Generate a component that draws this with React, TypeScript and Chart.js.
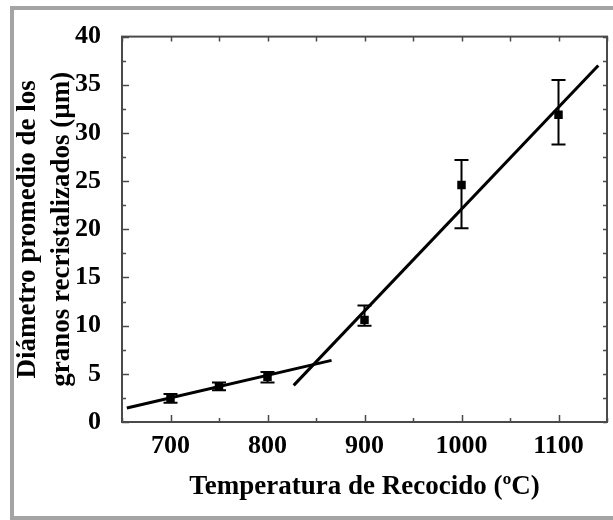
import { useEffect, useRef } from 'react';
import { Chart, registerables } from 'chart.js';

Chart.register(...registerables);

// Annealing temperature (ºC) and mean recrystallized grain diameter (µm)
const temperatures = [700, 750, 800, 900, 1000, 1100];
const grainSize = [2.4, 3.7, 4.7, 10.6, 24.6, 31.9];
const errorUpper = [2.9, 4.1, 5.2, 12.1, 27.2, 35.5];
const errorLower = [2.0, 3.3, 4.1, 10.0, 20.1, 28.8];

// Two linear regimes fitted through the data
const lowFitX = [655, 866];
const lowFitY = [1.45, 6.4];
const highFitX = [827, 1141];
const highFitY = [3.8, 37.0];

const xTicks = [700, 800, 900, 1000, 1100];
const xMinorTicks = [650, 750, 850, 950, 1050, 1150];
const yTicks = [0, 5, 10, 15, 20, 25, 30, 35, 40];
const yMinorTicks = [2.5, 7.5, 12.5, 17.5, 22.5, 27.5, 32.5, 37.5];

const AXIS_COLOR = '#4a4a4a';
const FONT = "'Liberation Serif', 'Times New Roman', serif";

const decorPlugin = {
  id: 'decor',
  afterDatasetsDraw(chart: any) {
    const { ctx, scales } = chart;
    const xs = scales.x;
    const ys = scales.y;
    ctx.save();
    ctx.strokeStyle = '#000';
    ctx.lineWidth = 2;
    temperatures.forEach((t, i) => {
      const px = xs.getPixelForValue(t);
      const top = ys.getPixelForValue(errorUpper[i]);
      const bot = ys.getPixelForValue(errorLower[i]);
      const cap = 7;
      ctx.beginPath();
      ctx.moveTo(px, top);
      ctx.lineTo(px, bot);
      ctx.moveTo(px - cap, top);
      ctx.lineTo(px + cap, top);
      ctx.moveTo(px - cap, bot);
      ctx.lineTo(px + cap, bot);
      ctx.stroke();
    });
    ctx.restore();
  },
  afterDraw(chart: any) {
    const { ctx, chartArea, scales } = chart;
    const { left, right, top, bottom } = chartArea;
    const xs = scales.x;
    const ys = scales.y;
    ctx.save();
    ctx.strokeStyle = AXIS_COLOR;
    ctx.lineWidth = 2;
    ctx.strokeRect(left, top, right - left, bottom - top);
    ctx.lineWidth = 1.5;
    ctx.beginPath();
    xTicks.forEach((v) => {
      const px = Math.round(xs.getPixelForValue(v)) + 0.5;
      ctx.moveTo(px, bottom);
      ctx.lineTo(px, bottom - 7);
      ctx.moveTo(px, top);
      ctx.lineTo(px, top + 5);
    });
    xMinorTicks.forEach((v) => {
      const px = Math.round(xs.getPixelForValue(v)) + 0.5;
      ctx.moveTo(px, bottom);
      ctx.lineTo(px, bottom - 4);
      ctx.moveTo(px, top);
      ctx.lineTo(px, top + 5);
    });
    yTicks.forEach((v) => {
      const py = Math.round(ys.getPixelForValue(v)) + 0.5;
      ctx.moveTo(left, py);
      ctx.lineTo(left + 7, py);
      ctx.moveTo(right, py);
      ctx.lineTo(right - 4, py);
    });
    yMinorTicks.forEach((v) => {
      const py = Math.round(ys.getPixelForValue(v)) + 0.5;
      ctx.moveTo(left, py);
      ctx.lineTo(left + 4, py);
      ctx.moveTo(right, py);
      ctx.lineTo(right - 4, py);
    });
    ctx.stroke();
    ctx.restore();
  },
};

export default function App() {
  const canvasRef = useRef<HTMLCanvasElement | null>(null);

  useEffect(() => {
    if (!canvasRef.current) return;
    const tickFont = { family: FONT, size: 26, weight: 'bold' as const };
    const titleFont = { family: FONT, size: 27, weight: 'bold' as const };

    const chart = new Chart(canvasRef.current, {
      type: 'scatter',
      data: {
        datasets: [
          {
            label: 'low',
            data: lowFitX.map((x, i) => ({ x, y: lowFitY[i] })),
            showLine: true,
            borderColor: '#000',
            borderWidth: 3,
            pointRadius: 0,
          },
          {
            label: 'high',
            data: highFitX.map((x, i) => ({ x, y: highFitY[i] })),
            showLine: true,
            borderColor: '#000',
            borderWidth: 3,
            pointRadius: 0,
          },
          {
            label: 'data',
            data: temperatures.map((x, i) => ({ x, y: grainSize[i] })),
            showLine: false,
            pointStyle: 'rect',
            pointRadius: 6,
            backgroundColor: '#000',
            borderColor: '#000',
            borderWidth: 0,
          },
        ],
      },
      options: {
        animation: false,
        responsive: true,
        maintainAspectRatio: false,
        layout: { padding: { left: 10, top: 33, right: 4, bottom: 0 } },
        plugins: {
          legend: { display: false },
          tooltip: { enabled: false },
        },
        scales: {
          x: {
            type: 'linear',
            min: 650,
            max: 1150,
            afterBuildTicks: (scale: any) => {
              scale.ticks = xTicks.map((value) => ({ value }));
            },
            afterFit: (scale: any) => {
              scale.height = 98;
            },
            grid: { display: false, drawTicks: false },
            border: { display: false },
            ticks: {
              color: '#000',
              font: tickFont,
              padding: 9,
              maxRotation: 0,
              autoSkip: false,
              callback: (value: any) => String(value),
            },
            title: {
              display: true,
              text: 'Temperatura de Recocido (ºC)',
              color: '#000',
              font: titleFont,
              padding: { top: 0, bottom: 17 },
            },
          },
          y: {
            type: 'linear',
            min: 0,
            max: 40,
            afterBuildTicks: (scale: any) => {
              scale.ticks = yTicks.map((value) => ({ value }));
            },
            afterFit: (scale: any) => {
              scale.width = 112;
            },
            grid: { display: false, drawTicks: false },
            border: { display: false },
            ticks: {
              color: '#000',
              font: tickFont,
              padding: 21,
              autoSkip: false,
              callback: (value: any) => String(value),
            },
            title: {
              display: true,
              text: ['Diámetro promedio de los', 'granos recristalizados (µm)'],
              color: '#000',
              font: { ...titleFont, lineHeight: 34 / 27 },
              padding: { top: 1, bottom: 0 },
            },
          },
        },
      },
      plugins: [decorPlugin],
    });
    return () => chart.destroy();
  }, []);

  return (
    <div
      style={{
        position: 'fixed',
        left: 0,
        top: 0,
        width: 613,
        height: 520,
        background: '#fff',
        overflow: 'hidden',
      }}
    >
      <div
        style={{
          position: 'absolute',
          left: 10,
          top: 6,
          width: 700,
          height: 514,
          boxSizing: 'border-box',
          border: '4px solid #a4a4a4',
        }}
      />
      <div style={{ position: 'absolute', left: 0, top: 0, width: 613, height: 520 }}>
        <canvas ref={canvasRef} />
      </div>
    </div>
  );
}
